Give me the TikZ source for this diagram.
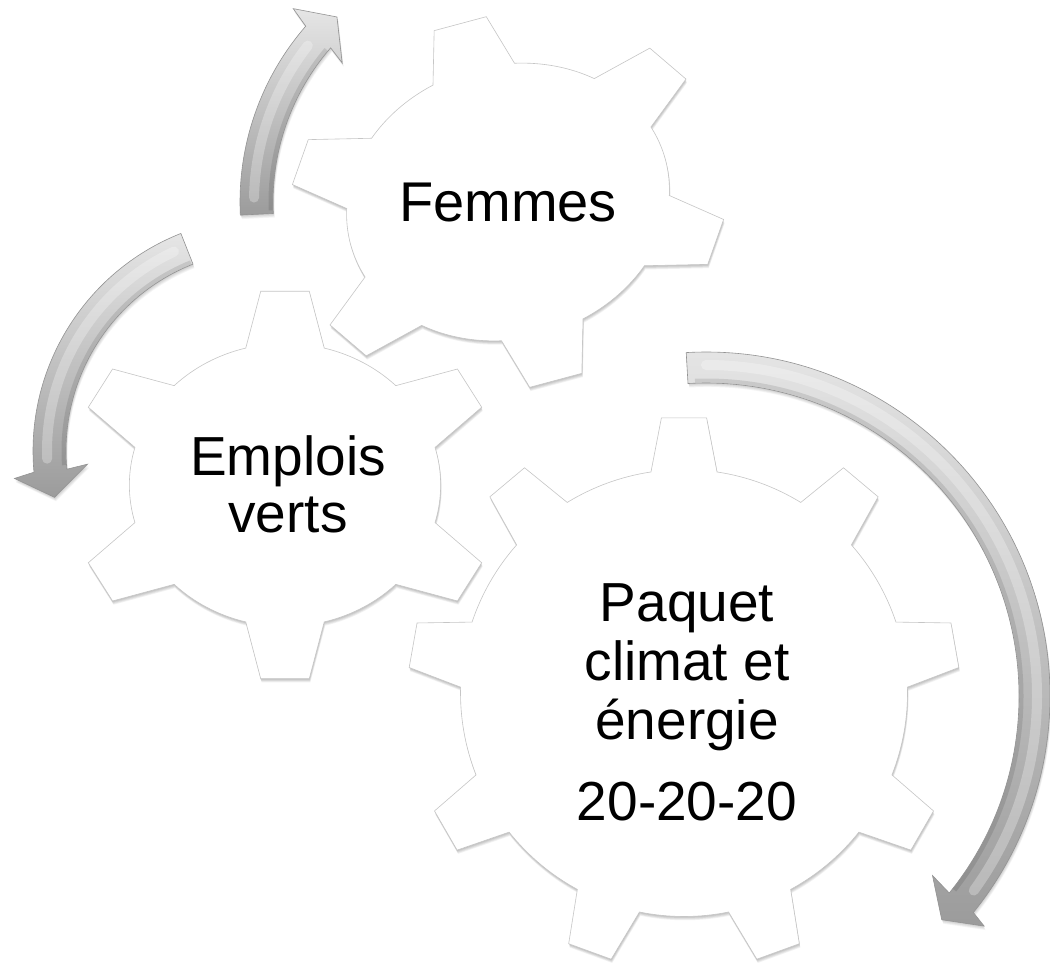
\documentclass[tikz,border=0pt]{standalone}
\usepackage{fontspec}
\setmainfont{Liberation Sans}
\newcommand\setgear[5]{%
  \pgfmathtruncatemacro\gN{#1}%
  \def\gR{#2}\def\gr{#3}\def\gAt{#4}\def\gAr{#5}%
  \pgfmathsetmacro\gS{360/#1}%
}
\def\gearpath{({90-\gAr}:\gr)
  \foreach \k [evaluate=\k as \ga using {90+(\k-1)*\gS}] in {1,...,\gN} {
    -- ({\ga-\gAt}:\gR) -- ({\ga+\gAt}:\gR) -- ({\ga+\gAr}:\gr)
    arc[start angle={\ga+\gAr}, end angle={\ga+\gS-\gAr}, radius=\gr]
  } -- cycle}
% #1 cx, #2 cy (image coords), #3 rotation, #4 xscale, #5 teeth, #6 R, #7 r, #8 tip half-angle, #9 root half-angle
\newcommand\drawgear[9]{%
  \setgear{#5}{#6}{#7}{#8}{#9}%
  \foreach \d in {1,...,5}{%
    \begin{scope}[shift={(0.2*\d,-0.75*\d)}]
      \begin{scope}[shift={(#1,-#2)},rotate=#3,xscale=#4]
        \fill[gearshadow] \gearpath;
      \end{scope}
    \end{scope}}%
  \begin{scope}[shift={(#1,-#2)},rotate=#3,xscale=#4]
    \filldraw[gearbody] \gearpath;
  \end{scope}}
% arrow: #1 cx, #2 cy, #3 path macro
\newcommand\drawarrow[3]{%
  \foreach \d in {1,...,5}{%
    \begin{scope}[shift={(#1+0.3*\d,-#2-0.8*\d)}]
      \fill[arrowshadow] #3;
    \end{scope}}%
  \begin{scope}[shift={(#1,-#2)}]
    \shade[arrowbody] #3;
    \draw[arrowedge] #3;
  \end{scope}}
\def\tlarrow{(182.8:268) arc[start angle=182.8, end angle=139, radius=268]
  -- (138:289) -- (132.75:252) -- (140:216.5) -- (139:235)
  arc[start angle=139, end angle=182.8, radius=235] -- cycle}
\def\lfarrow{(111.6:234) arc[start angle=111.6, end angle=185.2, radius=234]
  -- (186.2:254) -- (192.3:217.5) -- (184.2:180) -- (185.2:201)
  arc[start angle=185.2, end angle=111.6, radius=201] -- cycle}
\def\bgarrow{(93.3:344) arc[start angle=93.3, end angle=-39, radius=344]
  -- (-39.6:361) -- (-43.5:325) -- (-38.4:289) -- (-39:313)
  arc[start angle=-39, end angle=93.3, radius=313] -- cycle}
\begin{document}
\begin{tikzpicture}[x=1pt,y=1pt,
  gearshadow/.style={fill=black,opacity=0.05},
  gearbody/.style={fill=white,draw=gray!45,line width=0.6pt},
  arrowshadow/.style={fill=black,opacity=0.04},
  arrowbody/.style={top color=gray!20,bottom color=gray!78},
  arrowedge/.style={draw=gray!85,line width=0.6pt},
  highlight/.style={draw=white,opacity=0.28,line width=10pt,line cap=round},
  innerband/.style={draw=black,opacity=0.10,line width=4pt},
  label/.style={text=black,inner sep=0pt}]
\useasboundingbox (0,0) rectangle (1050,-963);
\fill[white] (0,0) rectangle (1050,-963);
% gears
\drawgear{285}{485}{0}{1.1}{6}{195}{141.5}{6.5}{14.6}
\drawgear{508}{202}{15}{1.19}{6}{186}{137}{7}{15}
\drawgear{684}{693}{0}{1}{9}{276}{223.5}{4.7}{8.5}
% arrows
\drawarrow{508}{202}{\tlarrow}
\drawarrow{267}{451}{\lfarrow}
\drawarrow{706}{696}{\bgarrow}
\begin{scope}[shift={(508,-202)}]
  \draw[highlight] (179:254) arc[start angle=179, end angle=142, radius=254];
  \draw[innerband] (182:237.5) arc[start angle=182, end angle=140, radius=237.5];
\end{scope}
\begin{scope}[shift={(267,-451)}]
  \draw[highlight] (115:220) arc[start angle=115, end angle=182, radius=220];
  \draw[innerband] (112:203.5) arc[start angle=112, end angle=184, radius=203.5];
\end{scope}
\begin{scope}[shift={(706,-696)}]
  \draw[highlight] (90:331) arc[start angle=90, end angle=-36, radius=331];
  \draw[innerband] (92:315.5) arc[start angle=92, end angle=-38, radius=315.5];
\end{scope}
% texts
\node[label,anchor=base,font=\fontsize{56}{60}\selectfont] (femmes) at (508,-222) {Femmes};
\node[label,align=center,font=\fontsize{55}{57}\selectfont] (emplois) at (288,-484) {Emplois\\verts};
\node[label,align=center,font=\fontsize{55}{59}\selectfont] (paquet) at (687,-702) {Paquet\\climat et\\énergie\\[22pt]20-20-20};
\end{tikzpicture}
\end{document}
